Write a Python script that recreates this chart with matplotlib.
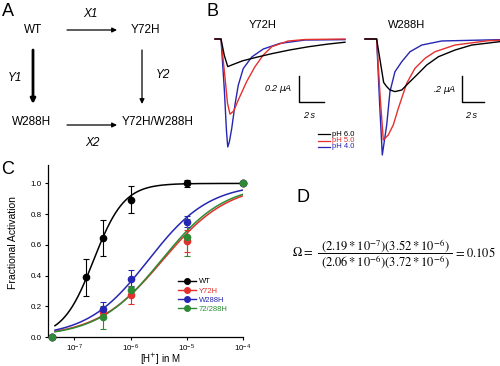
import numpy as np
import matplotlib
matplotlib.use("Agg")
import matplotlib.pyplot as plt
from matplotlib.lines import Line2D

plt.rcParams['font.family'] = ['Liberation Sans', 'DejaVu Sans']

W, H = 500, 366

# ---- panel C: pH dose-response ----
ph = [7.4, 6.8, 6.5, 6.0, 5.0, 4.0]
names = ['WT', 'Y72H', 'W288H', '72/288H']
colors = ['black', '#e4302c', '#2626b4', '#2e8a34']
wt_act = [0.0, 0.39, 0.645, 0.895, 1.0, 1.0]
wt_err = [0.0, 0.12, 0.12, 0.09, 0.025, 0.0]
y72_act = [0.0, np.nan, 0.165, 0.275, 0.625, 1.0]
y72_err = [0.0, 0.0, 0.02, 0.06, 0.07, 0.0]
w288_act = [0.0, np.nan, 0.18, 0.38, 0.75, 1.0]
w288_err = [0.0, 0.0, 0.045, 0.055, 0.035, 0.0]
dbl_act = [0.0, np.nan, 0.13, 0.305, 0.65, 1.0]
dbl_err = [0.0, 0.0, 0.075, 0.03, 0.12, 0.0]
# Hill fit parameters
ec50 = [2.19e-7, 3.72e-6, 2.06e-6, 3.52e-6]
hill = [1.6, 0.74, 0.8, 0.77]

# ---- panel B: current traces (time in s, current in uA) ----
y72_t_ph6 = [0, 0.48, 0.75, 1.02, 1.4, 2.2, 3.2, 4.5, 6.0, 7.5, 9.0, 10.4]
y72_i_ph6 = [0, 0, -0.13, -0.215, -0.2, -0.17, -0.145, -0.115, -0.085, -0.06, -0.04, -0.025]
y72_t_ph5 = [0, 0.48, 0.8, 1.0, 1.2, 1.5, 1.86, 2.54, 3.2, 3.86, 4.54, 5.84, 7.2, 10.4]
y72_i_ph5 = [0, 0, -0.3, -0.5, -0.585, -0.56, -0.475, -0.33, -0.215, -0.125, -0.06, -0.016, -0.004, 0]
y72_t_ph4 = [0, 0.48, 0.75, 0.92, 1.02, 1.15, 1.34, 1.6, 1.86, 2.26, 2.94, 3.86, 5.2, 7.2, 10.4]
y72_i_ph4 = [0, 0, -0.4, -0.72, -0.84, -0.8, -0.695, -0.51, -0.36, -0.23, -0.14, -0.078, -0.034, -0.008, -0.005]

w288_t_ph6 = [0, 1.03, 1.65, 1.9, 2.21, 2.65, 3.25, 3.83, 4.58, 5.46, 6.49, 7.96, 9.44, 11.95]
w288_i_ph6 = [0, 0, -0.33, -0.36, -0.388, -0.4, -0.388, -0.337, -0.274, -0.198, -0.135, -0.084, -0.046, -0.02]
w288_t_ph5 = [0, 1.03, 1.35, 1.62, 2.06, 2.5, 2.95, 3.69, 4.42, 5.31, 6.19, 7.96, 10.9, 11.95]
w288_i_ph5 = [0, 0, -0.45, -0.768, -0.73, -0.654, -0.527, -0.337, -0.223, -0.147, -0.097, -0.046, -0.013, -0.01]
w288_t_ph4 = [0, 1.03, 1.3, 1.53, 1.92, 2.21, 2.65, 3.25, 3.98, 5.02, 6.79, 11.95]
w288_i_ph4 = [0, 0, -0.5, -0.882, -0.654, -0.4, -0.249, -0.173, -0.097, -0.046, -0.015, -0.005]
trace_labels = ['pH 6.0', 'pH 5.0', 'pH 4.0']
trace_colors = ['black', '#e4302c', '#2626b4']


def px_box(x0, y0, x1, y1):
    # pixel box (top-left origin) -> figure fraction rect
    return [x0 / W, 1 - y1 / H, (x1 - x0) / W, (y1 - y0) / H]


def sci(v):
    e = int(np.floor(np.log10(v)))
    return '(%.2f*10^{%d})' % (v / 10 ** e, e)


fig = plt.figure(figsize=(5.0, 3.66), dpi=100)

ov = fig.add_axes([0, 0, 1, 1])
ov.set_xlim(0, W)
ov.set_ylim(H, 0)
ov.axis('off')

# panel letters
for lab, (x, y) in zip('ABCD', [(8, 11), (212, 12), (8, 170), (303, 198)]):
    ov.text(x, y, lab, fontsize=13, ha='center', va='center')

# ---- panel A: thermodynamic cycle ----
fs_a = 8.5
ov.text(33, 30, 'WT', fontsize=fs_a, ha='center', va='center')
ov.text(145, 30, 'Y72H', fontsize=fs_a, ha='center', va='center')
ov.text(32, 122, 'W288H', fontsize=fs_a, ha='center', va='center')
ov.text(158, 122, 'Y72H/W288H', fontsize=fs_a, ha='center', va='center')
ov.text(90, 14, 'X1', fontsize=fs_a, style='italic', ha='center', va='center')
ov.text(92, 143, 'X2', fontsize=fs_a, style='italic', ha='center', va='center')
ov.text(15, 78, 'Y1', fontsize=fs_a, style='italic', ha='center', va='center')
ov.text(163, 75, 'Y2', fontsize=fs_a, style='italic', ha='center', va='center')
arrow_kw = dict(arrowstyle='-|>', color='black', mutation_scale=7, shrinkA=0, shrinkB=0)
ov.annotate('', xy=(117, 30), xytext=(67, 30), arrowprops=dict(lw=0.9, **arrow_kw))
ov.annotate('', xy=(117, 125), xytext=(67, 125), arrowprops=dict(lw=0.9, **arrow_kw))
ov.annotate('', xy=(33, 104), xytext=(33, 50), arrowprops=dict(lw=2.0, **arrow_kw))
ov.annotate('', xy=(142, 104), xytext=(142, 50), arrowprops=dict(lw=0.9, **arrow_kw))

# ---- panel B: traces ----
ov.text(263, 25, 'Y72H', fontsize=8, ha='center', va='center')
ov.text(407, 25, 'W288H', fontsize=8, ha='center', va='center')

axL = fig.add_axes(px_box(210, 33, 350, 160))
axL.set_xlim(-5 / 12.5, 135 / 12.5)
axL.set_ylim(-(160 - 39) / 128.5, (39 - 33) / 128.5)
axR = fig.add_axes(px_box(360, 33, 500, 160))
axR.set_xlim(-5 / 11.3, 135 / 11.3)
axR.set_ylim(-(160 - 39) / 131.5, (39 - 33) / 131.5)

left_traces = [(y72_t_ph6, y72_i_ph6), (y72_t_ph5, y72_i_ph5), (y72_t_ph4, y72_i_ph4)]
right_traces = [(w288_t_ph6, w288_i_ph6), (w288_t_ph5, w288_i_ph5), (w288_t_ph4, w288_i_ph4)]
for ax, traces in [(axL, left_traces), (axR, right_traces)]:
    for (t, i), c in zip(traces[::-1], trace_colors[::-1]):
        ax.plot(t, i, color=c, lw=1.0)
    ax.axis('off')

# scale bars: 2 s and 0.2 uA
for ax, (sx, sy), lab in [(axL, (6.72, -0.488), '0.2 $\\mu$A'), (axR, (8.56, -0.481), '.2 $\\mu$A')]:
    ax.plot([sx, sx, sx + 2], [sy + 0.2, sy, sy], color='black', lw=1.0)
    ax.text(sx - 0.5, sy + 0.1, lab, fontsize=6.5, style='italic', ha='right', va='center')
    ax.text(sx + 0.8, sy - 0.07, '2 s', fontsize=6.5, style='italic', ha='center', va='top')

for k, (lab, c) in enumerate(zip(trace_labels, trace_colors)):
    y = 134 + 6.5 * k
    ov.plot([318, 330], [y, y], color=c, lw=0.9)
    ov.text(332, y, lab, color=c, fontsize=5.5, ha='left', va='center')

# ---- panel C: fractional activation ----
axC = fig.add_axes(px_box(47.5, 165, 243, 337))
conc = 10.0 ** -np.array(ph)
xfit = np.logspace(np.log10(4.5e-8), -4, 300)
series = [(wt_act, wt_err), (y72_act, y72_err), (w288_act, w288_err), (dbl_act, dbl_err)]
for (act, err), c, k, n in zip(series, colors, ec50, hill):
    axC.plot(xfit, (xfit / k) ** n / (1 + (xfit / k) ** n), color=c, lw=1.1, zorder=2)
    axC.errorbar(conc, act, yerr=err, fmt='o', color=c, ms=4.5, elinewidth=0.8,
                 capsize=2.2, capthick=0.8, clip_on=False, zorder=3)
axC.set_xscale('log')
axC.set_xlim(10 ** -7.48, 1e-4)
axC.set_ylim(0, 1.12)
axC.set_yticks([0, 0.2, 0.4, 0.6, 0.8, 1.0])
axC.set_yticklabels(['0.0', '0.2', '0.4', '0.6', '0.8', '1.0'])
axC.set_xticks([1e-7, 1e-6, 1e-5, 1e-4])
axC.xaxis.set_minor_locator(plt.NullLocator())
axC.tick_params(labelsize=5.8, length=2.5, width=0.8, pad=1.5)
for s in ['top', 'right']:
    axC.spines[s].set_visible(False)
for s in ['left', 'bottom']:
    axC.spines[s].set_linewidth(0.9)
axC.set_xlabel('[H$^{+}$] in M', fontsize=7)
axC.xaxis.set_label_coords(0.58, -0.085)
axC.set_ylabel('Fractional Activation', fontsize=7.5)
axC.yaxis.set_label_coords(-0.15, 0.55)

handles = [Line2D([], [], color=c, marker='o', ms=4, lw=1.0) for c in colors]
axC.legend(handles, names, fontsize=5.5, frameon=False, loc='upper left',
           bbox_to_anchor=(178 / W, 1 - 278 / H), bbox_transform=fig.transFigure,
           borderpad=0, borderaxespad=0, labelspacing=0.25, handlelength=2.4,
           handletextpad=0.3, labelcolor='linecolor')

# ---- panel D: coupling coefficient ----
fs_d = 9
num = '$%s%s$' % (sci(ec50[0]), sci(ec50[3]))
den = '$%s%s$' % (sci(ec50[2]), sci(ec50[1]))
ov.text(292, 253, r'$\Omega =$', fontsize=fs_d, ha='left', va='center', math_fontfamily='stix')
ov.text(385, 246, num, fontsize=fs_d, ha='center', va='center', math_fontfamily='stix')
ov.text(385, 262, den, fontsize=fs_d, ha='center', va='center', math_fontfamily='stix')
ov.plot([318, 452], [253, 253], color='black', lw=0.7)
ov.text(454, 253, r'$= 0.105$', fontsize=fs_d, ha='left', va='center', math_fontfamily='stix')

fig.savefig('out.png', dpi=100)
